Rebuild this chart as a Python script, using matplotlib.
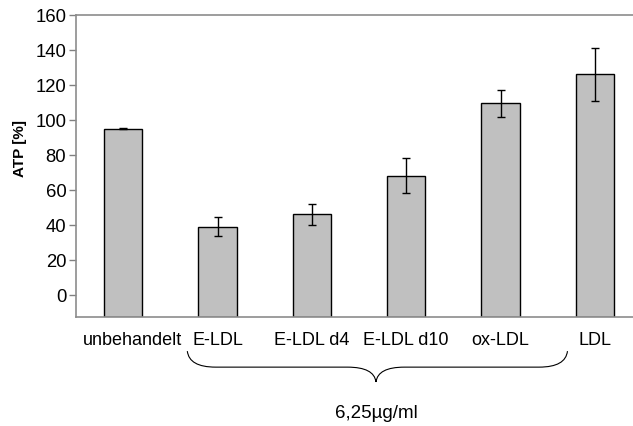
import matplotlib
matplotlib.use("Agg")
import matplotlib.pyplot as plt
from matplotlib.path import Path
from matplotlib.patches import PathPatch
import matplotlib.transforms as mtransforms

plt.rcParams['font.family'] = ['Liberation Sans', 'DejaVu Sans']

categories = ["unbehandelt", "E-LDL", "E-LDL d4", "E-LDL d10", "ox-LDL", "LDL"]
atp_mean = [95, 39, 46, 68, 109.5, 126]
atp_err = [0.3, 5.3, 6.0, 10.0, 7.8, 15.3]
y_ticks = [0, 20, 40, 60, 80, 100, 120, 140, 160]
y_min, y_max = -12.7, 160
group_label = "6,25µg/ml"

fig = plt.figure(figsize=(6.33, 4.27), dpi=100)
ax = fig.add_axes([76/633, 1 - 318/427, (642 - 76)/633, (318 - 16)/427])

x = list(range(len(categories)))
heights = [v - y_min for v in atp_mean]
ax.bar(x, heights, bottom=y_min, width=0.405, color="#c0c0c0",
       edgecolor="black", linewidth=1.0, zorder=2)
ax.errorbar(x, atp_mean, yerr=atp_err, fmt="none", ecolor="black",
            elinewidth=1.0, capsize=3.2, capthick=1.0, zorder=3)

ax.set_xlim(-0.5, len(categories) - 0.5)
ax.set_ylim(y_min, y_max)
ax.set_yticks(y_ticks)
ax.set_yticklabels([str(t) for t in y_ticks], fontsize=13.3)
ax.set_xticks(x)
ax.set_xticklabels(categories, fontsize=13)
ax.tick_params(axis="x", length=0, pad=10)
ax.tick_params(axis="y", length=5, color="#808080", width=1, pad=2)

# first category label sits a little to the right of its bar
first = ax.get_xticklabels()[0]
first.set_transform(first.get_transform() +
                    mtransforms.ScaledTranslation(0.09, 0, fig.dpi_scale_trans))

for side in ("left", "top", "bottom"):
    ax.spines[side].set_color("#8c8c8c")
    ax.spines[side].set_linewidth(1.2)
ax.spines["right"].set_visible(False)

ax.set_ylabel("ATP [%]", fontsize=11, fontweight="bold")
ax.yaxis.set_label_coords(-0.086, 0.56)

# curly brace grouping the treated samples
trans = mtransforms.blended_transform_factory(ax.transData, ax.transAxes)
x0, x1 = 0.68, 4.71
xc = 2.68
y_top, y_mid, y_tip = -0.113, -0.166, -0.215
dx = 0.3
verts = [
    (x0, y_top), (x0 + 0.02, y_mid), (x0 + dx, y_mid),
    (xc - dx, y_mid),
    (xc - 0.02, y_mid), (xc, y_tip),
    (xc + 0.02, y_mid), (xc + dx, y_mid),
    (x1 - dx, y_mid),
    (x1 - 0.02, y_mid), (x1, y_top),
]
codes = [Path.MOVETO, Path.CURVE3, Path.CURVE3,
         Path.LINETO,
         Path.CURVE3, Path.CURVE3,
         Path.CURVE3, Path.CURVE3,
         Path.LINETO,
         Path.CURVE3, Path.CURVE3]
brace = PathPatch(Path(verts, codes), transform=trans, facecolor="none",
                  edgecolor="black", linewidth=0.8, clip_on=False)
ax.add_patch(brace)
ax.text(xc, -0.315, group_label, transform=trans, ha="center", va="center",
        fontsize=13.5)

fig.savefig("out.png", dpi=100)
